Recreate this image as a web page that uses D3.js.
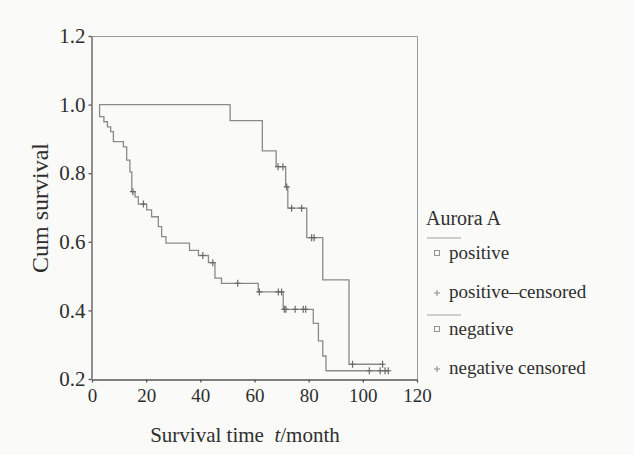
<!DOCTYPE html>
<html>
<head>
<meta charset="utf-8">
<script src="https://cdn.jsdelivr.net/npm/d3@7"></script>
<style>
  body { margin: 0; background: #fafaf9; }
  svg { display: block; }
  text { font-family: "Liberation Serif", "DejaVu Serif", serif; fill: #2e2e2e; }
</style>
</head>
<body>
<div id="km"></div>
<script>
// Kaplan-Meier curves: [time (month), survival after the drop]
var startTime = 2.7;

var positiveSteps = [
  [2.8, 0.965], [4.4, 0.950], [5.7, 0.935], [6.9, 0.921], [7.9, 0.892],
  [11.6, 0.877], [12.8, 0.838], [14.0, 0.804], [14.7, 0.746], [15.9, 0.731],
  [17.1, 0.710], [20.2, 0.693], [22.0, 0.673], [24.5, 0.644], [25.7, 0.615],
  [27.3, 0.596], [36.0, 0.575], [39.3, 0.560], [43.0, 0.539], [45.4, 0.494],
  [47.8, 0.479], [61.4, 0.454], [70.6, 0.403], [81.7, 0.362], [83.6, 0.311],
  [85.2, 0.267], [86.4, 0.224]
];
var positiveEnd = 109.8;
var positiveCensored = [15.1, 19.0, 40.9, 44.6, 53.8, 61.8, 68.8, 70.0, 71.0, 71.6, 75.0, 78.0, 78.9,
  102.4, 106.4, 108.2, 109.4];

var negativeSteps = [
  [51.0, 0.953], [62.9, 0.865], [68.0, 0.819], [71.5, 0.760], [72.3, 0.698],
  [79.3, 0.612], [85.2, 0.489], [94.9, 0.243]
];
var negativeEnd = 107.6;
var negativeCensored = [68.7, 70.5, 71.9, 73.7, 77.4, 81.1, 82.0, 96.2, 107.3];

var xTicks = [0, 20, 40, 60, 80, 100, 120];
var yTicks = [0.2, 0.4, 0.6, 0.8, 1.0, 1.2];
var legendTitle = "Aurora A";
var legendLabels = ["positive", "positive\u2013censored", "negative", "negative censored"];

// set the dimensions of the diagram
var width = 634, height = 455;
var plot = {left: 92, right: 417, top: 36, bottom: 379};
var lineColor = "#8a8a8a", axisColor = "#555";
var serif = "'Liberation Serif', 'DejaVu Serif', serif";

var x = d3.scaleLinear().domain([0, 120]).range([plot.left, plot.right]);
var y = d3.scaleLinear().domain([0.2, 1.2]).range([plot.bottom, plot.top]);

var svg = d3.select("#km").append("svg")
    .attr("width", width)
    .attr("height", height);

//frame top and right
svg.append("path")
    .attr("d", "M" + plot.left + "," + (plot.top + 0.5) + "H" + (plot.right + 0.5) + "V" + plot.bottom)
    .attr("fill", "none")
    .attr("stroke", "#9a9a9a")
    .attr("stroke-width", 1);

//x axis
var gx = svg.append("g")
    .attr("transform", "translate(0," + (plot.bottom + 0.5) + ")")
    .call(d3.axisBottom(x).tickValues(xTicks).tickSize(3).tickSizeOuter(0).tickPadding(6))
    .attr("font-family", serif)
    .attr("font-size", 19);

//y axis
var gy = svg.append("g")
    .attr("transform", "translate(" + (plot.left - 0.5) + ",0)")
    .call(d3.axisLeft(y).tickValues(yTicks).tickFormat(d3.format(".1f")).tickSize(3).tickSizeOuter(0).tickPadding(3))
    .attr("font-family", serif)
    .attr("font-size", 21);

svg.selectAll(".domain, .tick line").attr("stroke", axisColor).attr("stroke-width", 1.3);
svg.selectAll(".tick text").attr("fill", "#2e2e2e");

//axis titles
var xt = svg.append("text")
    .attr("x", 245)
    .attr("y", 442)
    .attr("text-anchor", "middle")
    .style("font-size", "21px");
xt.append("tspan").text("Survival time\u00a0\u00a0");
xt.append("tspan").style("font-style", "italic").text("t");
xt.append("tspan").text("/month");

svg.append("text")
    .attr("transform", "translate(48,208) rotate(-90)")
    .attr("text-anchor", "middle")
    .style("font-size", "24px")
    .text("Cum survival");

// step curves
var stepLine = d3.line()
    .x(d => x(d[0]))
    .y(d => y(d[1]))
    .curve(d3.curveStepAfter);

function survivalAt(steps, t) {
  var s = 1;
  steps.forEach(function(d) { if (d[0] <= t) s = d[1]; });
  return s;
}

function drawCurve(steps, end, censored) {
  var pts = [[startTime, 1]].concat(steps);
  pts.push([end, steps[steps.length - 1][1]]);
  svg.append("path")
      .datum(pts)
      .attr("fill", "none")
      .attr("stroke", lineColor)
      .attr("stroke-width", 1.3)
      .attr("d", stepLine);

  svg.append("g").selectAll("path")
      .data(censored)
      .enter().append("path")
      .attr("d", function(t) {
        var cx = x(t), cy = y(survivalAt(steps, t));
        return "M" + (cx - 3) + "," + cy + "H" + (cx + 3) + "M" + cx + "," + (cy - 3.5) + "V" + (cy + 3.5);
      })
      .attr("stroke", "#6a6a6a")
      .attr("stroke-width", 1.2);
}

drawCurve(positiveSteps, positiveEnd, positiveCensored);
drawCurve(negativeSteps, negativeEnd, negativeCensored);

// legend
var lg = svg.append("g");
lg.append("text")
    .attr("x", 426)
    .attr("y", 225)
    .style("font-size", "20px")
    .text(legendTitle);

var rowY = [253, 292, 329, 368];
[238, 315].forEach(function(ly) {
  lg.append("line")
      .attr("x1", 427).attr("x2", 461)
      .attr("y1", ly).attr("y2", ly)
      .attr("stroke", "#a0a0a0")
      .attr("stroke-width", 1);
});

legendLabels.forEach(function(label, i) {
  var cy = rowY[i];
  if (i % 2 == 0) {
    lg.append("rect")
        .attr("x", 434.5).attr("y", cy - 2.5)
        .attr("width", 5).attr("height", 5)
        .attr("fill", "none")
        .attr("stroke", "#888")
        .attr("stroke-width", 0.9);
  } else {
    lg.append("path")
        .attr("d", "M434," + (cy + 1) + "H440M437," + (cy - 2) + "V" + (cy + 4))
        .attr("stroke", "#888")
        .attr("stroke-width", 1);
  }
  lg.append("text")
      .attr("x", 449)
      .attr("y", cy + 6)
      .style("font-size", "19px")
      .text(label);
});
</script>
</body>
</html>
